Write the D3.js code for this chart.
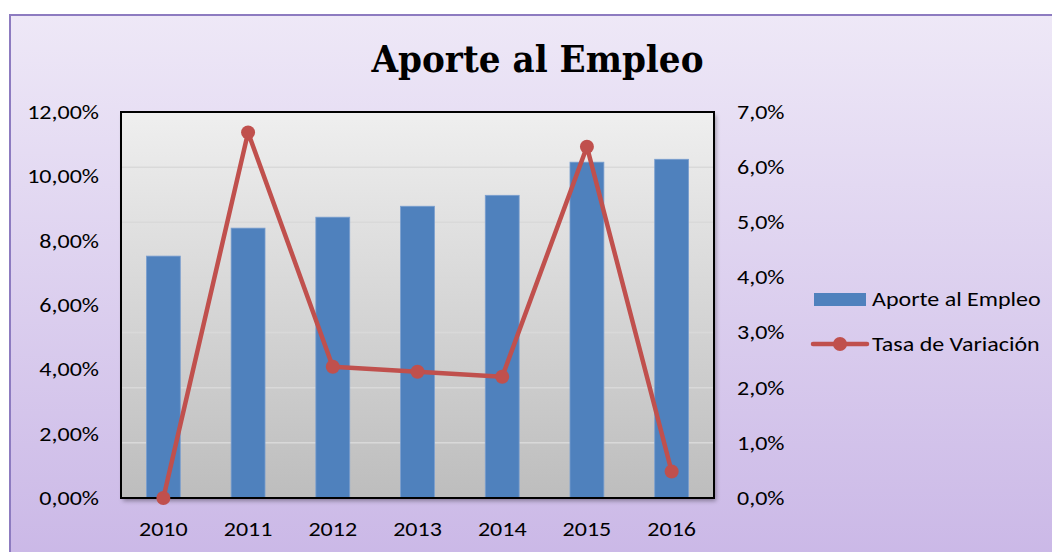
<!DOCTYPE html>
<html>
<head>
<meta charset="utf-8">
<script src="https://cdn.jsdelivr.net/npm/d3@7"></script>
<style>
  body { margin: 0; background: #fff; }
  text { font-family: Carlito, Lato, sans-serif; fill: #000; }
</style>
</head>
<body>
<svg id="main-svg"></svg>
<script>
// data
const years = ["2010", "2011", "2012", "2013", "2014", "2015", "2016"];
const aporte = [7.52, 8.39, 8.73, 9.07, 9.41, 10.44, 10.53];   // % , left axis
const tasa = [0.0, 6.63, 2.38, 2.29, 2.20, 6.37, 0.48];        // % , right axis
const leftTicks = [0, 2, 4, 6, 8, 10, 12];
const rightTicks = [0, 1, 2, 3, 4, 5, 6, 7];
const seriesNames = ["Aporte al Empleo", "Tasa de Variación"];

const width = 1052, height = 552;
const plot = {left: 121, right: 714, top: 112, bottom: 498};
const barColor = "#4f81bd", lineColor = "#c0504d";

let svg = d3.select("#main-svg").attr("width", width).attr("height", height);
let defs = svg.append("defs");

let bg = defs.append("linearGradient").attr("id", "bg").attr("x1", 0).attr("y1", 0).attr("x2", 0).attr("y2", 1);
bg.append("stop").attr("offset", 0).attr("stop-color", "#eee8f7");
bg.append("stop").attr("offset", 1).attr("stop-color", "#c7b3e5");

let pg = defs.append("linearGradient").attr("id", "pg").attr("x1", 0).attr("y1", 0).attr("x2", 0).attr("y2", 1);
pg.append("stop").attr("offset", 0).attr("stop-color", "#efefef");
pg.append("stop").attr("offset", 1).attr("stop-color", "#bdbdbd");

let shadow = defs.append("filter").attr("id", "shadow").attr("x", -0.05).attr("y", -0.05).attr("width", 1.1).attr("height", 1.1);
shadow.append("feDropShadow").attr("dx", 2).attr("dy", 3).attr("stdDeviation", 2)
  .attr("flood-color", "#000").attr("flood-opacity", 0.35);

// outer chart area
svg.append("rect")
  .attr("x", 10).attr("y", 15).attr("width", 1100).attr("height", 600)
  .attr("fill", "url(#bg)").attr("stroke", "#8d7bc0").attr("stroke-width", 2);

svg.append("text")
  .attr("x", 537.5).attr("y", 72)
  .attr("text-anchor", "middle")
  .attr("textLength", 332).attr("lengthAdjust", "spacingAndGlyphs")
  .style("font-family", "'DejaVu Serif', serif")
  .style("font-weight", "bold").style("font-size", "37px")
  .text("Aporte al Empleo");

// scales
let x = d3.scaleBand().domain(years).range([plot.left, plot.right]).paddingInner(0.6).paddingOuter(0.3);
let yLeft = d3.scaleLinear().domain([0, 12]).range([plot.bottom, plot.top]);
let yRight = d3.scaleLinear().domain([0, 7]).range([plot.bottom, plot.top]);

// plot area
svg.append("rect")
  .attr("x", plot.left).attr("y", plot.top)
  .attr("width", plot.right - plot.left).attr("height", plot.bottom - plot.top)
  .attr("fill", "url(#pg)").attr("filter", "url(#shadow)");

svg.append("g").selectAll("line")
  .data(rightTicks.slice(1, -1))
  .enter().append("line")
  .attr("x1", plot.left).attr("x2", plot.right)
  .attr("y1", d => yRight(d)).attr("y2", d => yRight(d))
  .attr("stroke", "#d9d9d9").attr("stroke-width", 1.5);

svg.append("g").selectAll("rect")
  .data(aporte)
  .enter().append("rect")
  .attr("x", (d, i) => x(years[i]))
  .attr("y", d => yLeft(d))
  .attr("width", x.bandwidth())
  .attr("height", d => plot.bottom - yLeft(d))
  .attr("fill", barColor)
  .attr("stroke", "#7b9fcf").attr("stroke-width", 0.8);

svg.append("rect")
  .attr("x", plot.left).attr("y", plot.top)
  .attr("width", plot.right - plot.left).attr("height", plot.bottom - plot.top)
  .attr("fill", "none").attr("stroke", "#000").attr("stroke-width", 2);

let line = d3.line()
  .x((d, i) => x(years[i]) + x.bandwidth() / 2)
  .y(d => yRight(d));

svg.append("path")
  .datum(tasa)
  .attr("d", line)
  .attr("fill", "none").attr("stroke", lineColor)
  .attr("stroke-width", 4.5).attr("stroke-linejoin", "round");

svg.append("g").selectAll("circle")
  .data(tasa)
  .enter().append("circle")
  .attr("cx", (d, i) => x(years[i]) + x.bandwidth() / 2)
  .attr("cy", d => yRight(d))
  .attr("r", 7)
  .attr("fill", lineColor);

// axes
let loc = d3.formatLocale({decimal: ",", thousands: ".", grouping: [3], currency: ["", "€"]});
let fmtLeft = d => loc.format(".2f")(d) + "%";
let fmtRight = d => loc.format(".1f")(d) + "%";

let axisL = svg.append("g").attr("transform", `translate(${plot.left},0)`)
  .call(d3.axisLeft(yLeft).tickValues(leftTicks).tickFormat(fmtLeft).tickSize(0).tickPadding(22));
let axisR = svg.append("g").attr("transform", `translate(${plot.right},0)`)
  .call(d3.axisRight(yRight).tickValues(rightTicks).tickFormat(fmtRight).tickSize(0).tickPadding(23));
let axisB = svg.append("g").attr("transform", `translate(0,${plot.bottom})`)
  .call(d3.axisBottom(x).tickSize(0).tickPadding(24));

[axisL, axisR, axisB].forEach(a => {
  a.select(".domain").remove();
  a.selectAll("text").style("font-size", "20px").attr("fill", "#000")
    .style("font-family", "Carlito, Lato, sans-serif");
});

// legend
let legend = svg.append("g");
legend.append("rect")
  .attr("x", 814).attr("y", 293).attr("width", 52).attr("height", 13)
  .attr("fill", barColor);
legend.append("line")
  .attr("x1", 813).attr("x2", 867).attr("y1", 344).attr("y2", 344)
  .attr("stroke", lineColor).attr("stroke-width", 4.5).attr("stroke-linecap", "round");
legend.append("circle").attr("cx", 840).attr("cy", 344).attr("r", 7).attr("fill", lineColor);
let legendText = legend.selectAll("text")
  .data(seriesNames)
  .enter().append("text")
  .attr("x", 872).attr("y", (d, i) => 299 + i * 45)
  .attr("dy", "0.35em")
  .style("font-size", "20px")
  .text(d => d);

// the reference's sans text is a bit wider than the fallback font, stretch it
const stretch = 1.2;
[axisL.selectAll("text"), axisR.selectAll("text"), axisB.selectAll("text"), legendText].forEach(sel => {
  sel.each(function () {
    let len = this.getComputedTextLength();
    d3.select(this).attr("textLength", len * stretch).attr("lengthAdjust", "spacingAndGlyphs");
  });
});
</script>
</body>
</html>
